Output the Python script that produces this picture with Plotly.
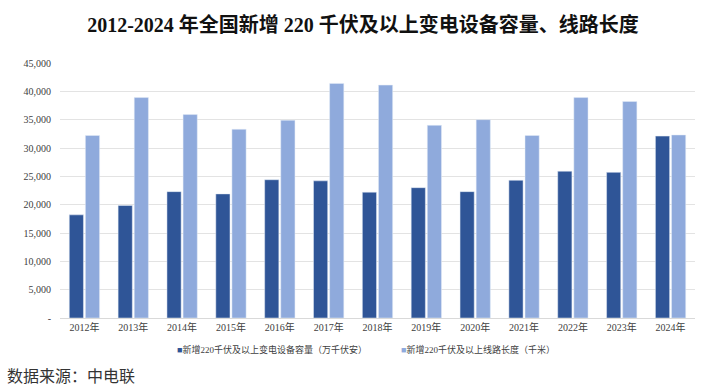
import plotly.graph_objects as go

years = ["2012年", "2013年", "2014年", "2015年", "2016年", "2017年", "2018年",
         "2019年", "2020年", "2021年", "2022年", "2023年", "2024年"]
substation_capacity = [18200, 19850, 22300, 21900, 24400, 24200, 22200,
                       23000, 22300, 24300, 25900, 25700, 32100]
line_length = [32200, 38900, 35900, 33300, 34900, 41400, 41100,
               34000, 35000, 32200, 38900, 38200, 32300]
y_tick_vals = [0, 5000, 10000, 15000, 20000, 25000, 30000, 35000, 40000, 45000]
y_tick_text = ["-", "5,000", "10,000", "15,000", "20,000", "25,000", "30,000",
               "35,000", "40,000", "45,000"]

name1 = "新增220千伏及以上变电设备容量（万千伏安）"
name2 = "新增220千伏及以上线路长度（千米）"
c1 = "#2F5597"
c2 = "#8FAADC"

serif = "Liberation Serif, Noto Sans CJK SC, serif"

fig = go.Figure()
fig.add_trace(go.Bar(x=years, y=substation_capacity, name=name1, marker_color=c1,
                     showlegend=False))
fig.add_trace(go.Bar(x=years, y=line_length, name=name2, marker_color=c2,
                     showlegend=False))

fig.update_layout(
    width=726, height=391,
    margin=dict(l=60, r=31, t=63, b=73),
    paper_bgcolor="white", plot_bgcolor="white",
    barmode="group", bargap=0.34, bargroupgap=0.12,
    title=dict(text="<b>2012-2024 年全国新增 220 千伏及以上变电设备容量、线路长度</b>",
               x=0.5, xanchor="center", y=0.935, yanchor="middle",
               font=dict(family=serif, size=20, color="#111")),
    xaxis=dict(showgrid=False, showline=True, linecolor="#D9D9D9", linewidth=1,
               ticks="", tickfont=dict(family=serif, size=10, color="#404040")),
    yaxis=dict(range=[0, 45000], tickvals=y_tick_vals, ticktext=y_tick_text,
               showgrid=True, gridcolor="#E3E3E3", gridwidth=1, zeroline=False,
               ticks="", ticklabelstandoff=8,
               tickfont=dict(family=serif, size=10, color="#404040")),
)

fig.add_annotation(xref="paper", yref="paper", x=(175 - 60) / 635, y=-0.125,
                   xanchor="left", yanchor="middle", showarrow=False,
                   text=f"<span style='color:{c1}'>■</span>{name1}",
                   font=dict(family=serif, size=9, color="#404040"))
fig.add_annotation(xref="paper", yref="paper", x=(399 - 60) / 635, y=-0.125,
                   xanchor="left", yanchor="middle", showarrow=False,
                   text=f"<span style='color:{c2}'>■</span>{name2}",
                   font=dict(family=serif, size=9, color="#404040"))
fig.add_annotation(xref="paper", yref="paper", x=-55 / 635, y=-0.225,
                   xanchor="left", yanchor="middle", showarrow=False,
                   text="数据来源：中电联",
                   font=dict(family="Noto Sans CJK SC", size=16, color="#333"))

fig.write_html("out.html", config={"displayModeBar": False},
               post_script="document.body.style.margin='0';document.body.style.overflow='hidden';")
